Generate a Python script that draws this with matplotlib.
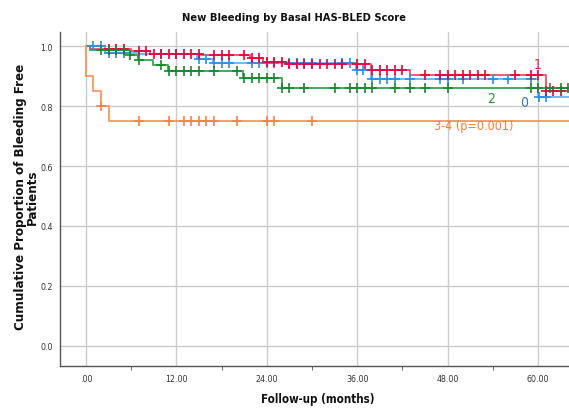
import numpy as np
import matplotlib.pyplot as plt

plt.rcParams['font.family'] = ['DejaVu Sans']
plt.rcParams['font.stretch'] = 'condensed'

# Kaplan-Meier steps: time of each drop (months) and survival after it
t0 = [0, 2.5, 7.0, 14.7, 16.8, 35.9, 37.8, 60.0]
s0 = [1.0, 0.978, 0.973, 0.957, 0.945, 0.92, 0.89, 0.831]
c0 = [1, 2, 3, 4, 5, 10, 12, 15, 16, 17, 18, 19, 22, 23, 24, 25, 27, 28, 29, 30,
      34, 35, 36, 36.8, 38, 39, 40, 41, 43, 47, 48, 50, 54, 56, 59, 60.1, 61.1]

t1 = [0, 0.5, 6.0, 8.5, 15.3, 21.8, 23.5, 26.6, 37.8, 43.0, 61.0]
s1 = [1.0, 0.99, 0.982, 0.973, 0.97, 0.96, 0.948, 0.94, 0.92, 0.903, 0.849]
c1 = [3, 4, 5, 7, 8, 9, 10, 11, 12, 13, 14, 15, 17, 18, 19, 21, 22, 23, 24, 25, 26,
      27, 28, 29, 30, 31, 32, 33, 34, 36, 37, 38, 39, 40, 41, 42, 45, 47, 48, 49,
      50, 51, 52, 53, 57, 59, 60, 61.1, 62, 63]

t2 = [0, 0.5, 5.8, 6.9, 8.9, 10.9, 20.9, 26.0]
s2 = [1.0, 0.987, 0.97, 0.953, 0.936, 0.918, 0.893, 0.861]
c2 = [2, 3, 4, 5, 5.9, 7, 10, 11, 12, 13, 14, 15, 17, 20, 21, 22, 23, 24, 25, 26,
      27, 29, 33, 35, 36, 37, 38, 41, 43, 45, 48, 59, 60, 61.6, 63, 64]

t3 = [0, 0, 1.0, 2.0, 3.0]
s3 = [1.0, 0.9, 0.85, 0.80, 0.75]
c3 = [2, 7, 11, 13, 14, 15, 16, 17, 20, 24, 25, 30]

t_end = 66
groups = [
    (t0, s0, c0, '#62b2f2', '#2a8ee8'),
    (t1, s1, c1, '#f4466c', '#e8003c'),
    (t2, s2, c2, '#34a04c', '#18882e'),
    (t3, s3, c3, '#ff9257', '#ff8040'),
]

fig = plt.figure(figsize=(5.69, 4.10), dpi=100)
ax = fig.add_axes([0.1046, 0.105, 0.8954, 0.8145])

for t, s, c, lc, mc in groups:
    x = list(t) + [t_end]
    y = list(s) + [s[-1]]
    ax.step(x, y, where='post', color=lc, lw=1.4, alpha=0.9, zorder=3)
    idx = np.searchsorted(t, c, side='right') - 1
    cy = np.array(s)[idx]
    ax.plot(c, cy, ls='none', marker='+', ms=7, mew=1.2, color=mc, zorder=4)

ax.text(60.0, 0.94, '1', color='#e0204a', fontsize=10, ha='center', va='center')
ax.text(53.7, 0.826, '2', color='#1a9a3a', fontsize=10, ha='center', va='center')
ax.text(58.2, 0.814, '0', color='#3a6fc0', fontsize=10, ha='center', va='center')
ax.text(51.5, 0.735, '3-4 (p=0.001)', color='#ff7a3a', fontsize=9,
        ha='center', va='center')

ax.set_xlim(-3.5, 64.1)
ax.set_ylim(-0.067, 1.047)
ax.set_xticks(np.arange(0, 61, 12))
ax.set_xticklabels(['.00', '12.00', '24.00', '36.00', '48.00', '60.00'])
ax.set_xticks(np.arange(6, 61, 12), minor=True)
ax.set_yticks(np.arange(0, 1.01, 0.2))
ax.set_yticklabels(['0.0', '0.2', '0.4', '0.6', '0.8', '1.0'])
ax.tick_params(axis='both', which='major', length=0, labelsize=6.3,
               colors='#333333')
ax.tick_params(axis='y', which='major', pad=5)
ax.tick_params(axis='x', which='major', pad=6)
ax.tick_params(axis='x', which='minor', length=3, color='#555555', direction='out')
ax.grid(True, color='#cccccc', lw=1.0)
ax.set_axisbelow(True)

for side in ['top', 'right']:
    ax.spines[side].set_visible(False)
for side in ['left', 'bottom']:
    ax.spines[side].set_color('#555555')
    ax.spines[side].set_linewidth(1.0)

fig.text(0.517, 0.957, 'New Bleeding by Basal HAS-BLED Score', ha='center',
         va='center', fontsize=8, fontweight='bold', color='#111111')
fig.text(0.559, 0.026, 'Follow-up (months)', ha='center', va='center',
         fontsize=8.3, fontweight='bold', color='#111111')
fig.text(0.047, 0.52, 'Cumulative Proportion of Bleeding Free\nPatients',
         ha='center', va='center', rotation=90, fontsize=9.5,
         fontweight='bold', color='#111111', linespacing=0.9)

fig.savefig('out.png', dpi=100)
